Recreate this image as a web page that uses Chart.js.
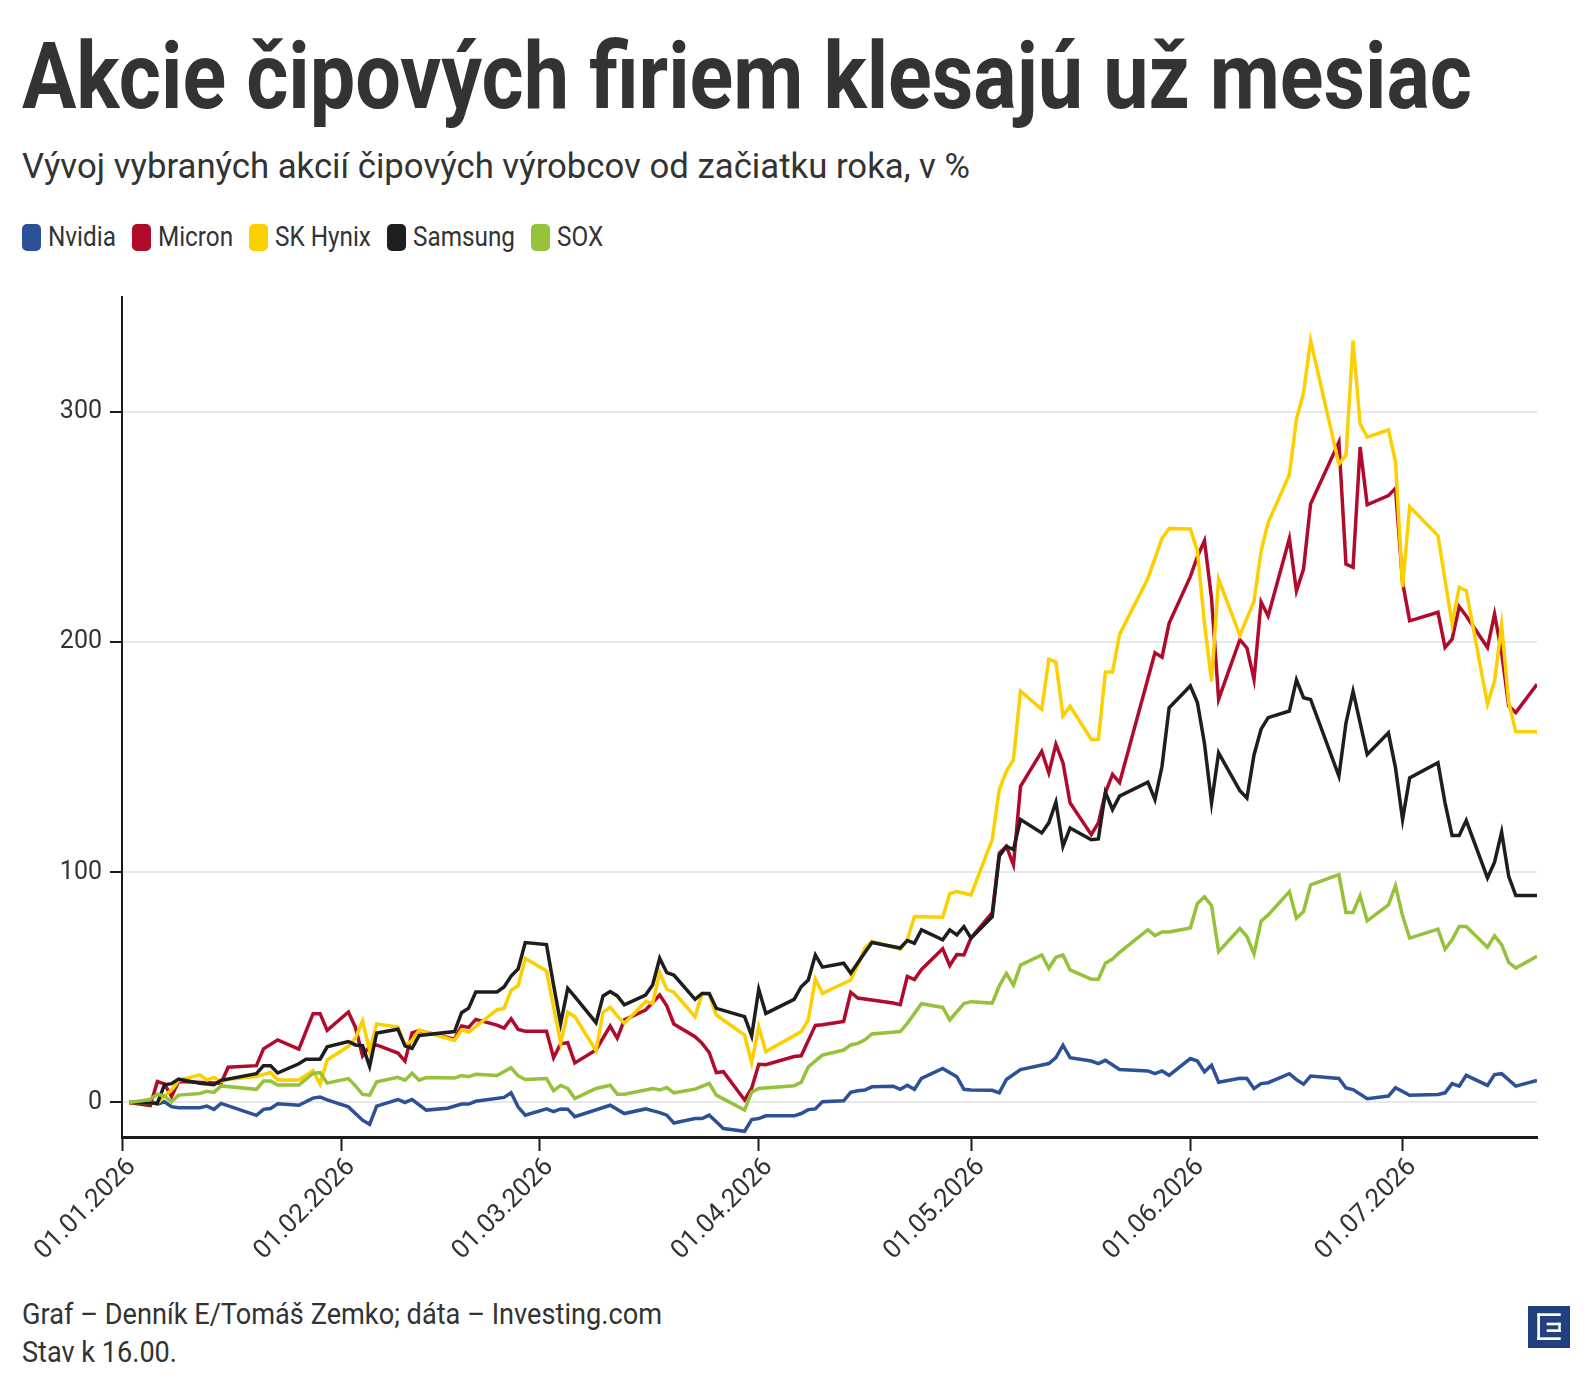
<!DOCTYPE html>
<html>
<head>
<meta charset="utf-8">
<script src="https://cdn.jsdelivr.net/npm/chart.js@4.4.1/dist/chart.umd.min.js"></script>
<style>
  body { margin:0; background:#fff; width:1590px; height:1390px; position:relative; overflow:hidden; font-family:Roboto, sans-serif; color:#333; }
  .txt { position:absolute; white-space:nowrap; line-height:1; transform-origin:0 0; display:inline-block; }
  #title { left:22px; top:31px; font-size:92px; font-weight:700; }
  #sub { left:22px; top:149px; font-size:35px; }
  #legend { position:absolute; left:22px; top:224px; display:flex; align-items:center; height:27px; }
  .item { display:flex; align-items:center; margin-right:16px; }
  .sw { width:19px; height:27px; border-radius:5px; margin-right:7px; }
  .lab { font-size:27px; line-height:1; white-space:nowrap; transform-origin:0 50%; display:inline-block; }
  #src { left:22px; top:1300px; font-size:29px; }
  #stav { left:22px; top:1338px; font-size:29px; }
  #wrap { position:absolute; left:0; top:270px; width:1590px; height:1010px; }
  #logo { position:absolute; left:1528px; top:1306px; width:42px; height:42px; }
</style>
</head>
<body>
<div id="title" class="txt">Akcie čipových firiem klesajú už mesiac</div>
<div id="sub" class="txt">Vývoj vybraných akcií čipových výrobcov od začiatku roka, v %</div>
<div id="legend"></div>
<div id="wrap"><canvas id="mycanvas" width="1590" height="1010"></canvas></div>
<div id="src" class="txt">Graf – Denník E/Tomáš Zemko; dáta – Investing.com</div>
<div id="stav" class="txt">Stav k 16.00.</div>
<svg id="logo" viewBox="0 0 42 42">
  <rect width="42" height="42" fill="#223f80"/>
  <rect x="9.3" y="7.3" width="2.7" height="26.7" fill="#fff"/>
  <rect x="9.3" y="7.3" width="23.4" height="2.7" fill="#fff"/>
  <rect x="9.3" y="31.3" width="23.4" height="2.7" fill="#fff"/>
  <rect x="18.7" y="16.7" width="14" height="2.6" fill="#fff"/>
  <rect x="18.7" y="23.3" width="14" height="2.7" fill="#fff"/>
  <rect x="30.3" y="16.7" width="2.4" height="9.3" fill="#fff"/>
</svg>
<script>
// day of year (0 = 01.01.2026), change since start of year in %
var nvidia = [[1,0],[4,0.3],[5,-0.7],[6,0.3],[7,-1.8],[8,-2.3],[11,-2.3],[12,-1.6],[13,-3],[14,-0.4],[19,-5.6],[20,-3],[21,-2.6],[22,-0.6],[25,-1.2],[27,1.9],[28,2.4],[29,1.1],[32,-1.9],[34,-7.7],[35,-9.5],[36,-1.6],[39,1.3],[40,0],[41,1.3],[43,-3.3],[46,-2.5],[48,-0.7],[49,-0.7],[50,0.5],[54,2.2],[55,4.2],[56,-2],[57,-5.5],[60,-2.8],[61,-4],[62,-2.8],[63,-2.9],[64,-6.2],[69,-1.2],[71,-4.8],[74,-2.8],[76,-4.4],[77,-5.5],[78,-8.9],[81,-7],[82,-7],[83,-5.5],[84,-8.4],[85,-11.3],[88,-12.5],[89,-7.4],[90,-7],[91,-5.8],[95,-5.8],[96,-4.8],[97,-3.1],[98,-2.8],[99,0.3],[102,0.7],[103,4.4],[104,5.1],[105,5.4],[106,6.8],[109,7.1],[110,5.7],[111,7.5],[112,5.7],[113,10.5],[116,14.8],[118,11.2],[119,5.7],[120,5.4],[123,5.3],[124,4.2],[125,10],[127,14.3],[131,16.9],[132,19.5],[133,24.9],[134,19.5],[137,18],[138,16.9],[139,18.3],[141,14.3],[145,13.7],[146,12.5],[147,13.7],[148,11.8],[151,19.1],[152,18],[153,13.3],[154,16.2],[155,8.8],[158,10.5],[159,10.4],[160,6],[161,8.2],[162,8.6],[165,12.5],[166,9.9],[167,7.9],[168,11.5],[172,10.4],[173,6.3],[174,5.6],[176,1.6],[179,2.8],[180,6.4],[182,3.1],[186,3.5],[187,4.2],[188,8.2],[189,7.1],[190,11.8],[193,7.4],[194,12.1],[195,12.5],[197,7.1],[200,9.6]];

var micron = [[1,0],[4,-1.3],[5,9.1],[6,8.1],[7,2.6],[8,9.1],[14,8.4],[15,15.3],[19,16],[20,23.3],[22,27.2],[25,23.2],[27,38.6],[28,38.6],[29,31.3],[32,39.3],[33,32.6],[34,20.2],[35,24.5],[36,25],[39,21.5],[40,18],[41,30.3],[42,31.3],[47,27.5],[48,33.2],[49,32.6],[50,36.1],[53,33.6],[54,32.3],[55,36.4],[56,31.7],[57,31],[60,31],[61,19.5],[62,25.5],[63,26],[64,17.2],[67,22.8],[69,33.2],[70,27.9],[71,35.9],[74,40.2],[76,46.7],[77,42],[78,34.1],[81,28.6],[82,25.7],[83,21.7],[84,13],[85,13.4],[88,1.1],[89,6.2],[90,16.6],[91,16.4],[95,20],[96,20.3],[98,33.5],[99,33.8],[102,35.2],[103,47.9],[104,45.4],[109,43.2],[110,42.5],[111,54.8],[112,53.4],[113,57.8],[116,66.8],[117,59.5],[118,64.3],[119,64.1],[120,71.5],[123,82.5],[124,108.4],[125,111.3],[126,103.3],[127,137.4],[130,152.6],[131,143.2],[132,155.6],[133,147.6],[134,130.2],[137,116.4],[138,121.5],[139,134.6],[140,142.6],[141,139],[146,195.4],[147,193.5],[148,208.2],[151,228.5],[152,237.2],[153,244.1],[154,219],[155,175.2],[158,201.1],[159,197.5],[160,183.8],[161,217.5],[162,211.4],[165,245.1],[166,222.3],[167,231.8],[168,260.1],[172,286.9],[173,233.9],[174,232.5],[175,284.8],[176,259.7],[179,263.7],[180,266.9],[181,226],[182,209.3],[186,213],[187,197.7],[188,201.3],[189,215.5],[190,211.4],[193,197.7],[194,212.2],[195,195.5],[196,172.3],[197,169.4],[200,181.7]];

var skHynix = [[1,0],[5,-0.3],[6,2.8],[7,5.4],[8,9.5],[11,12],[12,9.8],[13,10.9],[14,9.1],[15,10.1],[19,11.3],[21,13],[22,9.8],[25,9.8],[27,13.8],[28,8],[29,18.5],[32,24.4],[33,28],[34,35.5],[35,22.5],[36,34.1],[39,32.8],[40,24.8],[41,27],[42,31.5],[47,27],[48,31.6],[49,30.5],[53,40.3],[54,40.9],[55,48.7],[56,50.8],[57,62.6],[60,57.2],[61,41.5],[62,25.7],[63,39.2],[64,37.3],[67,22.5],[68,39.2],[69,41.4],[70,37.6],[71,34.4],[74,43.8],[75,43.1],[76,56.4],[77,49.2],[78,47.9],[81,37.3],[82,47.4],[83,47.1],[84,38],[88,29.3],[89,17.2],[90,32.9],[91,22.1],[96,30.8],[97,35.9],[98,53.6],[99,47.4],[103,53.2],[104,59.8],[105,67.1],[106,70],[110,66.6],[111,70.7],[112,80.8],[116,80.5],[117,90.7],[118,91.7],[120,90.2],[123,114.2],[124,136],[125,143.9],[126,149],[127,178.8],[130,170.8],[131,192.6],[132,191.4],[133,167.9],[134,172.2],[137,157.7],[138,157.7],[139,187],[140,187],[141,203.4],[145,227.7],[147,245.1],[148,249.4],[151,249.2],[152,239.7],[153,208],[154,183],[155,227.4],[158,203],[160,217.8],[161,239.5],[162,252],[165,272.8],[166,297],[167,308.4],[168,331.1],[172,277.4],[173,281.3],[174,331.1],[175,294.9],[176,289.1],[179,292.3],[180,278.5],[181,223.9],[182,258.9],[186,246.3],[188,207.9],[189,223.9],[190,222.4],[193,173.1],[194,183.1],[195,207.4],[196,173.9],[197,161.1],[200,161.1]];

var samsung = [[1,0],[5,-0.3],[6,7.7],[7,8.2],[8,10.2],[11,8.4],[13,7.7],[14,9.6],[19,12.5],[20,16],[21,16],[22,12.8],[25,16.8],[26,18.8],[28,18.8],[29,24.2],[32,26.5],[33,25],[34,24.7],[35,15.7],[36,30.2],[39,31.8],[40,24.6],[41,23.5],[42,29.1],[47,30.8],[48,39],[49,41],[50,48],[53,48],[54,50.2],[55,54.9],[56,58.1],[57,69.5],[60,68.6],[61,51],[62,34.3],[63,49.6],[64,46],[67,34.7],[68,46.3],[69,48.2],[70,46.3],[71,42.4],[74,46.7],[75,51.1],[76,62.7],[77,56.4],[78,55.4],[81,44.8],[82,47.4],[83,47.4],[84,40.9],[88,37.3],[89,28.9],[90,49.2],[91,38.7],[95,44.8],[96,50.3],[97,53.2],[98,64.1],[99,58.8],[102,60.5],[103,56.2],[105,65.2],[106,69.5],[110,67.1],[111,70.4],[112,69.2],[113,75],[116,70.7],[117,75],[118,72.8],[119,76.4],[120,71.4],[123,80.7],[124,107],[125,111.3],[126,109.9],[127,122.9],[130,117.1],[131,121.5],[132,130.5],[133,111.3],[134,119.3],[137,114.2],[138,114.5],[139,134.8],[140,127.3],[141,133.1],[145,139.2],[146,131.6],[147,146.1],[148,171.5],[151,181],[152,173.8],[153,156],[154,130.2],[155,151.9],[158,135.5],[159,132.3],[160,151],[161,162.2],[162,167.2],[165,170.1],[166,183.6],[167,175.9],[168,175.1],[172,141.8],[173,164.9],[174,178.7],[175,164.9],[176,151.2],[179,160.6],[180,145.4],[181,123],[182,141],[186,147.6],[187,130.2],[188,116],[189,116],[190,122.5],[193,97.6],[194,104.4],[195,117.5],[196,98.3],[197,89.9],[200,89.9]];

var sox = [[1,0],[4,1.3],[5,3.6],[6,2.8],[7,0.3],[8,3.2],[11,3.9],[12,4.9],[13,4.4],[14,7.2],[19,5.7],[20,9.3],[21,9.3],[22,7.6],[25,7.6],[27,12.6],[28,13],[29,8.4],[32,10.4],[33,7.2],[34,3.5],[35,3.2],[36,9],[39,10.9],[40,9.7],[41,12.7],[42,9.7],[43,10.8],[47,10.6],[48,11.7],[49,11.2],[50,12.3],[53,11.7],[55,15.1],[56,11.6],[57,10],[60,10.4],[61,5.1],[62,7.4],[63,6.1],[64,1.7],[67,6.1],[69,7.5],[70,3.6],[71,3.6],[75,6.1],[76,5.4],[77,6.5],[78,4.2],[81,5.8],[83,8.3],[84,3.2],[88,-3.3],[89,4.5],[90,6.1],[95,7.3],[96,8.7],[97,15.5],[99,20.6],[102,22.8],[103,25],[104,25.7],[105,27.2],[106,29.8],[110,30.8],[111,34.4],[113,42.9],[116,41.3],[117,35.9],[119,43],[120,43.8],[123,43.2],[124,50.7],[125,56.1],[126,51],[127,59.7],[130,64.1],[131,58.3],[132,63.1],[133,64.1],[134,57.6],[137,53.6],[138,53.6],[139,60.5],[140,62.3],[141,65.2],[145,75.1],[146,72.5],[147,74.1],[148,74.1],[151,75.8],[152,86.5],[153,89.4],[154,85.5],[155,65.5],[158,75.6],[159,72.1],[160,64.5],[161,78.8],[162,81.5],[165,91.6],[166,80.1],[167,83],[168,94.6],[172,99],[173,82.6],[174,82.6],[175,89.8],[176,78.9],[179,85.9],[180,94.2],[181,81.1],[182,71.4],[186,75.3],[187,66.6],[188,70.7],[189,76.5],[190,76.5],[193,67.5],[194,72.4],[195,68.6],[196,60.9],[197,58.4],[200,63.5]];

var names = ['Nvidia', 'Micron', 'SK Hynix', 'Samsung', 'SOX'];
var colors = ['#2d5196', '#b00b2c', '#fccf00', '#1e1e1e', '#94c23a'];
var series = [nvidia, micron, skHynix, samsung, sox];

var monthDays = [0, 31, 59, 90, 120, 151, 181];
var monthLabels = ['01.01.2026', '01.02.2026', '01.03.2026', '01.04.2026', '01.05.2026', '01.06.2026', '01.07.2026'];
var yTicks = [0, 100, 200, 300];

function fit(el, width) {
  var w = el.getBoundingClientRect().width;
  el.style.transform = 'scaleX(' + (width / w) + ')';
}

fit(document.getElementById('title'), 1450);
fit(document.getElementById('sub'), 948);
fit(document.getElementById('src'), 640);
fit(document.getElementById('stav'), 155);

// legend
var legend = document.getElementById('legend');
for (var i = 0; i < names.length; i++) {
  var item = document.createElement('div');
  item.className = 'item';
  var sw = document.createElement('div');
  sw.className = 'sw';
  sw.style.background = colors[i];
  var lab = document.createElement('span');
  lab.className = 'lab';
  lab.textContent = names[i];
  item.appendChild(sw);
  item.appendChild(lab);
  legend.appendChild(item);
  var w = lab.getBoundingClientRect().width;
  var k = 0.9;
  lab.style.transform = 'scaleX(' + k + ')';
  lab.style.marginRight = (-(1 - k) * w) + 'px';
}

var datasets = [];
for (var j = 0; j < series.length; j++) {
  datasets.push({
    label: names[j],
    data: series[j].map(function(p) { return {x: p[0], y: p[1]}; }),
    borderColor: colors[j],
    backgroundColor: colors[j],
    borderWidth: 3.5,
    pointRadius: 0,
    tension: 0,
    fill: false,
    order: series.length - j
  });
}

var ctx = document.getElementById('mycanvas');
var chart = new Chart(ctx, {
  type: 'line',
  data: { datasets: datasets },
  options: {
    responsive: false,
    animation: false,
    devicePixelRatio: 1,
    layout: { padding: { top: 27, right: 53, left: 0, bottom: 0 }, autoPadding: false },
    plugins: { legend: { display: false }, tooltip: { enabled: false } },
    scales: {
      x: {
        type: 'linear',
        min: 0,
        max: 200,
        afterBuildTicks: function(s) { s.ticks = monthDays.map(function(v) { return {value: v}; }); },
        afterFit: function(s) { s.height = 143; },
        ticks: {
          autoSkip: false,
          minRotation: 45,
          maxRotation: 45,
          padding: 1,
          labelOffset: 10,
          color: '#333',
          font: { family: 'Roboto', size: 26 },
          callback: function(v, idx) { return monthLabels[idx]; }
        },
        grid: { drawOnChartArea: false, drawTicks: true, tickLength: 14, tickColor: '#1a1a1a', tickWidth: 2 },
        border: { color: '#1a1a1a', width: 3 }
      },
      y: {
        min: -15,
        max: 350,
        afterBuildTicks: function(s) { s.ticks = yTicks.map(function(v) { return {value: v}; }); },
        afterFit: function(s) { s.width = 122; },
        ticks: { padding: 8, color: '#333', font: { family: 'Roboto', size: 25 } },
        grid: { color: '#e8e8e8', lineWidth: 2, tickColor: '#1a1a1a', tickLength: 12, tickWidth: 2 },
        border: { color: '#1a1a1a', width: 2 }
      }
    }
  }
});
</script>
</body>
</html>
